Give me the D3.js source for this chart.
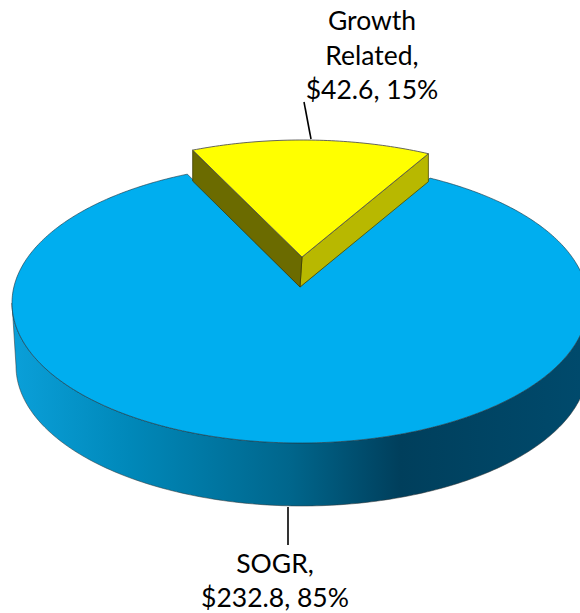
<!DOCTYPE html>
<html><head><meta charset="utf-8">
<script src="https://cdn.jsdelivr.net/npm/d3@7"></script>
<style>html,body{margin:0;padding:0;background:#fff;overflow:hidden}svg{display:block}text{font-family:Lato,"Open Sans",sans-serif;fill:#000}</style>
</head><body><div id="c"></div>
<script>
const categories = ["Growth Related", "SOGR"];
const values = [42.6, 232.8];
const labelLines = [["Growth", "Related,", "$42.6, 15%"], ["SOGR,", "$232.8, 85%"]];
const colorsTop = ["#ffff00", "#00aeef"];
const gradientColors = ["#0a9fd8", "#0088b9", "#00668c", "#003f5c", "#004a6c"];
const gradientStops = [16, 130, 290, 400, 580];

const W = 580, H = 613;
const svg = d3.select("#c").append("svg").attr("width", W).attr("height", H);

const startA = -0.449;
const arcs = d3.pie().sort(null).startAngle(startA).endAngle(startA + 2 * Math.PI)(values);

// Perspective view of a unit disc on the page
function projector(cx, cy, rx, ry, d) {
  const k = Math.sqrt(1 - d * d);
  return (r, a) => {
    const x = r * Math.sin(a), y = r * Math.cos(a), q = 1 + d * y;
    return [cx + rx * x * k / q, cy - ry * (y + d) / q];
  };
}
const rx = 288, ry = 140;
const blue = projector(300, 303, rx, ry, 0.114);
const yellow = projector(302, 280, 293, ry, 0.164);
const line = d3.line();
const rim = (p, a0, a1, n = 160) => d3.range(n + 1).map(i => p(1, a0 + (a1 - a0) * i / n));

// Gradient of the blue side wall
const defs = svg.append("defs");
const xPos = d3.scaleLinear().domain([0, 580]).range([0, 100]);
const grad = defs.append("linearGradient").attr("id", "wall")
  .attr("gradientUnits", "userSpaceOnUse").attr("x1", 0).attr("x2", 580).attr("y1", 0).attr("y2", 0);
gradientStops.forEach((s, i) => grad.append("stop").attr("offset", xPos(s) + "%").attr("stop-color", gradientColors[i]));

// Blue side wall: front half of the top rim down to the bottom rim
const ell = (cx, cy, erx, ery, t) => [cx + erx * Math.cos(t), cy + ery * Math.sin(t)];
const front = d3.range(0, 181).map(i => i * Math.PI / 180);
const topRim = front.map(t => ell(300, 303, rx, ry, t));
const botRim = front.map(t => ell(302, 366, 286, ry, t)).reverse();
svg.append("path").attr("d", line(topRim.concat(botRim)) + "Z")
  .attr("fill", "url(#wall)").attr("stroke", "#333").attr("stroke-width", 0.7).attr("stroke-opacity", 0.75);

// Blue top face
const s = arcs[1];
const blueApex = blue(0, 0);
svg.append("path")
  .attr("d", line([blueApex].concat(rim(blue, s.startAngle, s.endAngle, 360))) + "Z")
  .attr("fill", colorsTop[1]).attr("stroke", "#1c3a48").attr("stroke-width", 0.8).attr("stroke-opacity", 0.8);

// Yellow slice
const g = arcs[0];
const yApex = yellow(0, 0);
const yL = yellow(1, g.startAngle), yR = yellow(1, g.endAngle);
const drop = (p, depth) => [p[0], p[1] + depth];
svg.append("path").attr("d", line([yApex, yR, drop(yR, 28), blueApex]) + "Z")
  .attr("fill", "#b8b800").attr("stroke", "#4a4a00").attr("stroke-width", 0.8);
svg.append("path").attr("d", line([yApex, yL, drop(yL, 31), blueApex]) + "Z")
  .attr("fill", "#6b6b00").attr("stroke", "#3c3c00").attr("stroke-width", 0.8);
svg.append("path").attr("d", line([yApex].concat(rim(yellow, g.startAngle, g.endAngle, 60))) + "Z")
  .attr("fill", colorsTop[0]).attr("stroke", "#555").attr("stroke-width", 0.9).attr("stroke-linejoin", "round");

// Leader lines
const leaders = [[[304, 102], [311, 139]], [[288, 507], [288, 545]]];
svg.selectAll("line.leader").data(leaders).join("line").attr("class", "leader")
  .attr("x1", d => d[0][0]).attr("y1", d => d[0][1]).attr("x2", d => d[1][0]).attr("y2", d => d[1][1])
  .attr("stroke", "#000").attr("stroke-width", 1.6);

// Labels
const labelPos = [{ x: 372, y: [30, 65, 99] }, { x: 275, y: [573, 607] }];
labelLines.forEach((lines, i) => {
  svg.append("g").attr("aria-label", categories[i]).selectAll("text").data(lines).join("text")
    .attr("x", labelPos[i].x).attr("y", (d, j) => labelPos[i].y[j])
    .attr("text-anchor", "middle").attr("font-size", 26.5).text(d => d);
});
</script></body></html>
